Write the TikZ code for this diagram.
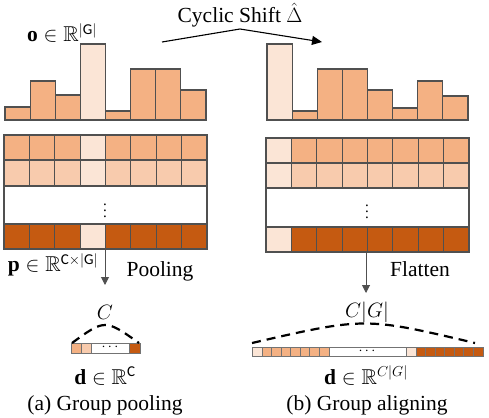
\documentclass[tikz,border=0pt]{standalone}
\usepackage{amssymb}
\usepackage{fontspec}
\setmainfont{Liberation Serif}
\setsansfont{Carlito}
\usetikzlibrary{arrows.meta}
\definecolor{orA}{HTML}{F4B183}
\definecolor{orL}{HTML}{FBE5D6}
\definecolor{orM}{HTML}{F8CBAD}
\definecolor{orD}{HTML}{C55A11}
\definecolor{bd}{HTML}{505050}
\begin{document}
\begin{tikzpicture}[x=1pt,y=-1pt,
  cell/.style={draw=bd, line width=1.2pt},
  smallcell/.style={draw=bd!80, line width=0.8pt},
  lbl/.style={inner sep=0pt, font=\fontsize{21.5}{26}\selectfont},
  dotlbl/.style={inner sep=0pt, font=\fontsize{10}{12}\selectfont},
  hdots/.style={inner sep=0pt, font=\fontsize{15}{17}\selectfont},
  downarrow/.style={draw=bd, line width=1pt, -{Triangle[length=8pt,width=8pt]}},
  brace/.style={draw=black, line width=2.2pt, dash pattern=on 9pt off 6pt}]
\useasboundingbox (0,0) rectangle (489,417);

% ---- left histogram
\foreach \i/\t/\c in {0/107/orA,1/81/orA,2/95/orA,3/44/orL,4/111/orA,5/69/orA,6/69/orA,7/90/orA}
  \draw[cell, fill=\c] ({5+25.125*\i},120) rectangle ({5+25.125*(\i+1)},\t);
% ---- right histogram
\foreach \i/\t/\c in {0/44/orL,1/111/orA,2/69/orA,3/69/orA,4/90/orA,5/108/orA,6/81/orA,7/96/orA}
  \draw[cell, fill=\c] ({267+25.125*\i},120) rectangle ({267+25.125*(\i+1)},\t);

% ---- left grid
\foreach \ya/\yb/\c in {135/160/orA,160/186/orM,224/249/orD}{
  \foreach \i in {0,...,7}
    \draw[cell,fill=\c] ({4+25.375*\i},\ya) rectangle ({4+25.375*(\i+1)},\yb);
  \draw[cell,fill=orL] ({4+25.375*3},\ya) rectangle ({4+25.375*4},\yb);
}
\draw[cell,fill=white] (4,186) rectangle (207,224);
\node[dotlbl] (vdl) at (105,206) {\scalebox{1.5}{$\vdots$}};

% ---- right grid
\foreach \ya/\yb/\c in {138/163/orA,163/188/orM,227/252/orD}{
  \foreach \i in {0,...,7}
    \draw[cell,fill=\c] ({266+25.375*\i},\ya) rectangle ({266+25.375*(\i+1)},\yb);
  \draw[cell,fill=orL] (266,\ya) rectangle ({266+25.375},\yb);
}
\draw[cell,fill=white] (266,188) rectangle (469,227);
\node[dotlbl] (vdr) at (367,207) {\scalebox{1.5}{$\vdots$}};

% ---- cyclic shift arrow
\coordinate (csA) at (162,42);
\coordinate (csP) at (240,29);
\coordinate (csB) at (322,42);
\draw[line width=1.1pt, -{Triangle[length=10pt,width=9pt]}] (csA) -- (csP) -- (csB);
\node[lbl] (cs) at (240,15) {Cyclic Shift $\hat{\Delta}$};

% ---- labels top
\node[lbl] (o) at (62,33) {$\mathbf{o}\in\mathbb{R}^{|\mathsf{G}|}$};
\node[lbl] (p) at (53,265) {$\mathbf{p}\in\mathbb{R}^{\mathsf{C}\times|\mathsf{G}|}$};
\node[lbl, anchor=base] (pool) at (160,276) {Pooling};
\node[lbl, anchor=base] (flat) at (420,276) {Flatten};

% ---- down arrows
\coordinate (gl) at (105,249);
\coordinate (tl) at (105,285);
\coordinate (gr) at (366,252);
\coordinate (tr) at (366,293);
\draw[downarrow] (gl) -- (tl);
\draw[downarrow] (gr) -- (tr);

% ---- bottom left vector
\draw[smallcell,fill=orA] (71,343) rectangle (81,353);
\draw[smallcell,fill=orM] (81,343) rectangle (91,353);
\draw[smallcell,fill=white] (91,343) rectangle (129,353);
\draw[smallcell,fill=orD] (129,343) rectangle (140,353);
\node[hdots] (hdl) at (110,347) {$\cdots$};
\coordinate (bl1) at (72,343);
\coordinate (bl2) at (139,343);
\draw[brace] (bl1) .. controls (105,319) .. (bl2);
\node[lbl] (Cl) at (105,312) {$C$};
\node[lbl, anchor=base] (dl) at (105,384) {$\mathbf{d}\in\mathbb{R}^{\mathsf{C}}$};
\node[lbl, anchor=base] (capa) at (105,410) {(a) Group pooling};

% ---- bottom right vector
\draw[smallcell,fill=orL] (252,347) rectangle (262,356);
\foreach \i in {0,...,6}
  \draw[smallcell,fill=orA] ({262+9.571*\i},347) rectangle ({262+9.571*(\i+1)},356);
\draw[smallcell,fill=white] (329,347) rectangle (406,356);
\draw[smallcell,fill=orL] (406,347) rectangle (416,356);
\foreach \i in {0,...,6}
  \draw[smallcell,fill=orD] ({416+9.571*\i},347) rectangle ({416+9.571*(\i+1)},356);
\node[hdots] (hdr) at (367,351) {$\cdots$};
\coordinate (br1) at (252,343);
\coordinate (br2) at (475,343);
\draw[brace] (br1) .. controls (365,317) .. (br2);
\node[lbl] (Cr) at (367,312) {$C|G|$};
\node[lbl, anchor=base] (dr) at (366,384) {$\mathbf{d}\in\mathbb{R}^{C|G|}$};
\node[lbl, anchor=base] (capb) at (367,410) {(b) Group aligning};
\end{tikzpicture}
\end{document}
